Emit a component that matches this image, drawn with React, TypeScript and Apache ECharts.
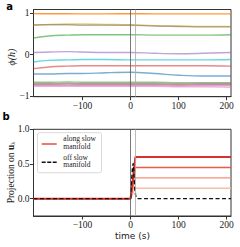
import React, { useEffect, useRef } from "react";
import * as echarts from "echarts";

// ---- data ----
const tTop = [-202, -170, -130, -100, -50, 0, 50, 100, 150, 209];
const phiOrange = [0.99, 0.988, 0.986, 0.985, 0.985, 0.986, 0.985, 0.984, 0.984, 0.985];
const phiOlive = [0.7, 0.73, 0.74, 0.74, 0.73, 0.72, 0.7, 0.69, 0.68, 0.68];
const phiBrown = [0.72, 0.72, 0.72, 0.71, 0.71, 0.71, 0.69, 0.68, 0.67, 0.67];
const phiGreen = [0.4, 0.45, 0.47, 0.48, 0.48, 0.48, 0.47, 0.47, 0.47, 0.48];
const phiPurple = [0.05, 0.06, 0.07, 0.06, 0.05, 0.05, 0.03, 0.02, 0.03, 0.05];
const phiCyan = [-0.18, -0.14, -0.13, -0.12, -0.12, -0.13, -0.13, -0.13, -0.13, -0.12];
const phiRed = [-0.34, -0.3, -0.28, -0.27, -0.27, -0.27, -0.27, -0.27, -0.27, -0.28];
const phiBlue = [-0.47, -0.47, -0.46, -0.46, -0.44, -0.43, -0.46, -0.5, -0.52, -0.52];
const phiGreen2 = [-0.67, -0.67, -0.665, -0.67, -0.67, -0.67, -0.67, -0.68, -0.68, -0.68];
const phiGray = [-0.7, -0.7, -0.695, -0.7, -0.7, -0.7, -0.7, -0.705, -0.7, -0.7];
const phiBrown2 = [-0.72, -0.72, -0.715, -0.72, -0.72, -0.72, -0.72, -0.725, -0.72, -0.72];
const phiPurple2 = [-0.75, -0.75, -0.745, -0.75, -0.75, -0.75, -0.75, -0.755, -0.75, -0.75];
const phiPink = [-0.77, -0.77, -0.77, -0.77, -0.77, -0.77, -0.77, -0.78, -0.78, -0.79];

const topSeries = [
  { values: phiOlive, color: "#bcbd22", alpha: 0.6 },
  { values: phiBrown, color: "#8c564b", alpha: 0.5 },
  { values: phiGreen, color: "#2ca02c", alpha: 0.6 },
  { values: phiPurple, color: "#9467bd", alpha: 0.6 },
  { values: phiCyan, color: "#17becf", alpha: 0.65 },
  { values: phiRed, color: "#d62728", alpha: 0.55 },
  { values: phiBlue, color: "#1f77b4", alpha: 0.6 },
  { values: phiGreen2, color: "#2ca02c", alpha: 0.55 },
  { values: phiGray, color: "#7f7f7f", alpha: 0.5 },
  { values: phiBrown2, color: "#d62728", alpha: 0.5 },
  { values: phiPurple2, color: "#9467bd", alpha: 0.55 },
  { values: phiPink, color: "#e377c2", alpha: 0.55 },
  { values: phiOrange, color: "#ff7f0e", alpha: 0.8 },
];

const tAlong = [-202, 0, 10, 209];
const along1 = [0, 0, 0.6, 0.6];
const along2 = [0, 0, 0.45, 0.45];
const along3 = [0, 0, 0.3, 0.3];
const along4 = [0, 0, 0.15, 0.15];
const alongColors = ["#d9312b", "#ec5a48", "#f78d72", "#fcbca2"];
const alongWidths = [2, 1.4, 1.4, 1.4];

const tOff = [-202, 0, 2, 4, 5.5, 7, 9, 11, 13, 209];
const offVals = [0, 0, 0.25, 0.45, 0.51, 0.35, 0.12, 0.03, 0, 0];

const vLines = [0, 10];
const xTicks = [-100, 0, 100, 200];
const yTicksTop = [-1, 0, 1];
const yTicksBottom = [0, 0.5, 1];

const xMin = -202;
const xMax = 209;

const SERIF = "Liberation Serif";
const fmtMinus = (v: number) => String(v).replace("-", "\u2212");

export default function App() {
  const ref = useRef<HTMLDivElement>(null);
  useEffect(() => {
    if (!ref.current) return;
    const chart = echarts.init(ref.current, undefined, { renderer: "svg" });
    const axisColor = "#333";
    const labelStyle = { fontFamily: SERIF, fontSize: 9.5, color: "#222" };
    const mkX = (gi: number) => ({
      type: "value",
      gridIndex: gi,
      min: xMin,
      max: xMax,
      axisLine: { show: true, onZero: false, lineStyle: { color: axisColor, width: 1 } },
      axisTick: { show: true, length: 3.5, customValues: xTicks, lineStyle: { color: axisColor } },
      axisLabel: { ...labelStyle, margin: 4, customValues: xTicks, formatter: (v: number) => fmtMinus(v) },
      splitLine: { show: false },
    });
    const mkY = (gi: number, min: number, max: number, ticks: number[], fmt: (v: number) => string) => ({
      type: "value",
      gridIndex: gi,
      min,
      max,
      axisLine: { show: true, onZero: false, lineStyle: { color: axisColor, width: 1 } },
      axisTick: { show: true, length: 3.5, customValues: ticks, lineStyle: { color: axisColor } },
      axisLabel: { ...labelStyle, margin: 4, customValues: ticks, formatter: fmt },
      splitLine: { show: false },
    });
    const mkVMark = () => ({
      silent: true,
      symbol: ["none", "none"],
      label: { show: false },
      data: [
        { xAxis: vLines[0], lineStyle: { color: "#555", width: 0.8, type: "solid" } },
        { xAxis: vLines[1], lineStyle: { color: "#aaa", width: 0.8, type: "solid" } },
      ],
    });
    const series: any[] = [];
    [0, 1].forEach((gi) => {
      series.push({
        type: "line",
        xAxisIndex: gi,
        yAxisIndex: gi,
        data: [],
        showSymbol: false,
        z: 1,
        markLine: mkVMark(),
      });
    });
    topSeries.forEach((s) => {
      series.push({
        type: "line",
        xAxisIndex: 0,
        yAxisIndex: 0,
        data: tTop.map((t, k) => [t, s.values[k]]),
        smooth: 0.4,
        showSymbol: false,
        lineStyle: { color: s.color, width: 1.4, opacity: s.alpha },
        z: 2,
      });
    });
    [along4, along3, along2, along1].forEach((vals, idx) => {
      const ci = 3 - idx;
      series.push({
        type: "line",
        xAxisIndex: 1,
        yAxisIndex: 1,
        data: tAlong.map((t, k) => [t, vals[k]]),
        showSymbol: false,
        lineStyle: { color: alongColors[ci], width: alongWidths[ci] },
        z: 3,
      });
    });
    series.push({
      type: "line",
      xAxisIndex: 1,
      yAxisIndex: 1,
      data: tOff.map((t, k) => [t, offVals[k]]),
      showSymbol: false,
      lineStyle: { color: "#111", width: 1.4, type: [4, 2.5] },
      z: 4,
    });

    chart.setOption({
      animation: false,
      backgroundColor: "#fff",
      grid: [
        { left: 33.5, top: 9.5, width: 197.5, height: 87.2, show: true, borderColor: axisColor, borderWidth: 1, containLabel: false },
        { left: 33.5, top: 129.3, width: 197.5, height: 86.7, show: true, borderColor: axisColor, borderWidth: 1, containLabel: false },
      ],
      xAxis: [mkX(0), mkX(1)],
      yAxis: [
        mkY(0, -1.02, 1.09, yTicksTop, (v: number) => fmtMinus(v)),
        mkY(1, -0.25, 1.0, yTicksBottom, (v: number) => v.toFixed(1)),
      ],
      series,
      graphic: [
        { type: "text", x: 9.5, y: 6.5, style: { text: "a", font: "bold 10px 'DejaVu Sans'", fill: "#000", align: "center", verticalAlign: "middle" } },
        { type: "text", x: 6, y: 116.5, style: { text: "b", font: "bold 10px 'DejaVu Sans'", fill: "#000", align: "center", verticalAlign: "middle" } },
        {
          type: "text",
          x: 11.5,
          y: 57,
          rotation: Math.PI / 2,
          style: { text: "\u03d5(h)", font: `italic 10px '${SERIF}'`, fill: "#222", align: "center", verticalAlign: "middle" },
        },
        {
          type: "text",
          x: 10.5,
          y: 172.5,
          rotation: Math.PI / 2,
          style: {
            text: "{a|Projection on }{b|u}{c|\u03bb}",
            align: "center",
            verticalAlign: "middle",
            fill: "#222",
            rich: {
              a: { fontFamily: SERIF, fontSize: 9.5, fill: "#222" },
              b: { fontFamily: SERIF, fontSize: 9.5, fontWeight: "bold", fill: "#222" },
              c: { fontFamily: SERIF, fontSize: 6.5, fill: "#222", padding: [4, 0, 0, 0] },
            },
          },
        },
        {
          type: "text",
          x: 132.5,
          y: 236,
          style: { text: "time (s)", font: "9px 'DejaVu Sans'", fill: "#222", align: "center", verticalAlign: "middle" },
        },
        // legend
        {
          type: "rect",
          shape: { x: 37.5, y: 132.7, width: 64, height: 40, r: 2 },
          style: { fill: "rgba(255,255,255,0.85)", stroke: "#d0d0d0", lineWidth: 0.8 },
          z: 10,
        },
        {
          type: "line",
          shape: { x1: 41.7, y1: 144, x2: 56.7, y2: 144 },
          style: { stroke: "#e0403a", lineWidth: 1.4 },
          z: 11,
        },
        {
          type: "line",
          shape: { x1: 41.7, y1: 162.3, x2: 56.7, y2: 162.3 },
          style: { stroke: "#111", lineWidth: 1.4, lineDash: [4, 1.5] },
          z: 11,
        },
        {
          type: "text",
          x: 63.3,
          y: 142.3,
          style: { text: "along slow\nmanifold", font: `7.5px '${SERIF}'`, fill: "#222", align: "left", verticalAlign: "middle", lineHeight: 7.5 },
          z: 11,
        },
        {
          type: "text",
          x: 63.3,
          y: 161,
          style: { text: "off slow\nmanifold", font: `7.5px '${SERIF}'`, fill: "#222", align: "left", verticalAlign: "middle", lineHeight: 7.5 },
          z: 11,
        },
      ],
    });
    return () => chart.dispose();
  }, []);
  return <div ref={ref} style={{ position: "absolute", left: 0, top: 0, width: 240, height: 247 }} />;
}
